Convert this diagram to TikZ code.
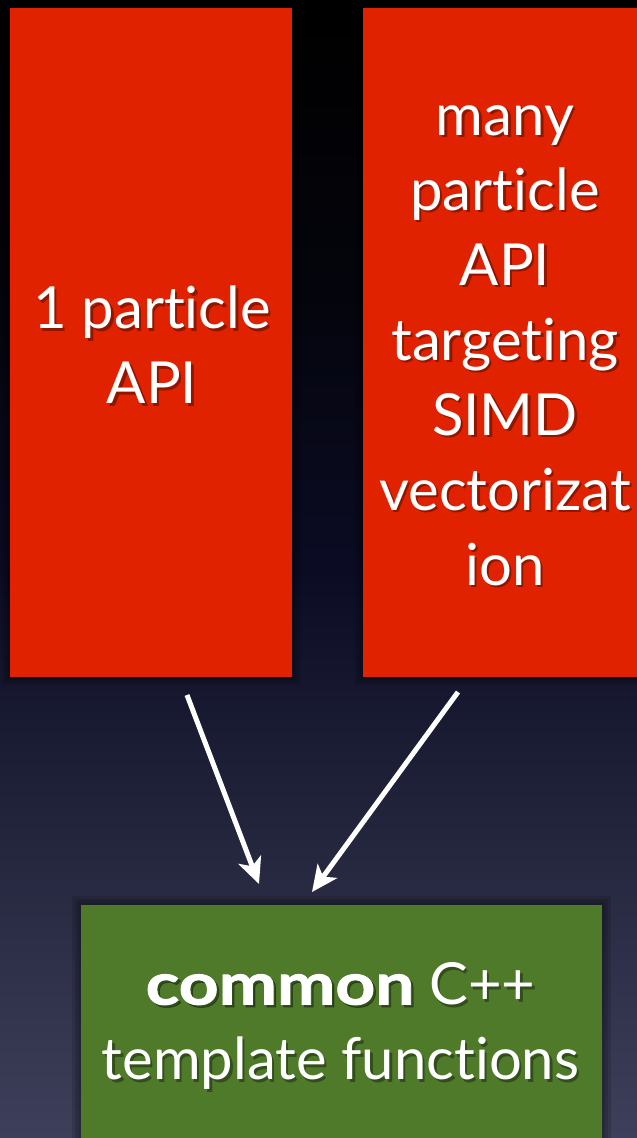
\documentclass[tikz,border=0pt]{standalone}
\usepackage{fontspec}
\setmainfont{Lato}[Ligatures={NoCommon,NoRequired,NoContextual}]
\usetikzlibrary{arrows.meta}
\definecolor{boxred}{HTML}{E02200}
\definecolor{boxgreen}{HTML}{4E7A2A}
\definecolor{bgc0}{HTML}{000000}
\definecolor{bgc1}{HTML}{04040C}
\definecolor{bgc2}{HTML}{0B0C24}
\definecolor{bgc3}{HTML}{25273F}
\definecolor{bgc4}{HTML}{3E3F5A}
\pgfdeclareverticalshading{bgshade}{100bp}{color(0bp)=(bgc4); color(25bp)=(bgc4); color(37.5bp)=(bgc3); color(50bp)=(bgc2); color(62.5bp)=(bgc1); color(75bp)=(bgc0); color(100bp)=(bgc0)}
\newcommand{\heavy}[1]{{\bfseries\addfontfeatures{FakeStretch=1.2,FakeBold=1.5}#1}}
\tikzset{
  redbox/.style={fill=boxred, draw=none, inner sep=0pt, anchor=north west},
  greenbox/.style={fill=boxgreen, draw=none, inner sep=0pt, anchor=north west},
  halo/.style={fill=black, fill opacity=0.12, draw=none},
  boxtxt/.style={text=white, align=center, inner sep=0pt, font=\fontsize{58}{75}\selectfont},
  shadowtxt/.style={boxtxt, text=black, text opacity=0.35},
  arr/.style={draw=white, line width=5pt, -{Stealth[length=26pt,width=24pt,inset=7pt]}}
}
\begin{document}
\begin{tikzpicture}[x=1pt,y=-1pt]
\useasboundingbox (0,0) rectangle (637,1138);
\shade[shading=bgshade] (0,0) rectangle (637,1138);
% halos
\foreach \d in {3,6,9} {
  \fill[halo] (10-\d,8-\d) rectangle (292+\d,677+\d);
  \fill[halo] (363-\d,8-\d) rectangle (660,677+\d);
  \fill[halo] (81-\d,905-\d) rectangle (602+\d,1160);
}
% boxes
\node[redbox, minimum width=282pt, minimum height=669pt] (left) at (10,8) {};
\node[redbox, minimum width=290pt, minimum height=669pt] (right) at (363,8) {};
\node[greenbox, minimum width=521pt, minimum height=270pt] (bottom) at (81,905) {};
% texts
\node[shadowtxt] (lefts) at (154.5,347.5) {1 particle\\API};
\node[boxtxt] (leftt) at (152,345) {1 particle\\API};
\node[shadowtxt] (rights) at (507.5,348) {many\\particle\\API\\targeting\\SIMD\\vectorizat\\ion};
\node[boxtxt] (rightt) at (505,345.5) {many\\particle\\API\\targeting\\SIMD\\vectorizat\\ion};
\node[shadowtxt] (bottoms) at (343,1028.5) {\heavy{common} C++\\template functions};
\node[boxtxt] (bottomt) at (340.5,1026) {\heavy{common} C++\\template functions};
% arrows
\coordinate (a1s) at (187,695);
\coordinate (a1e) at (259,884);
\coordinate (a2s) at (458,692);
\coordinate (a2e) at (312,892);
\draw[arr] (a1s) -- (a1e);
\draw[arr] (a2s) -- (a2e);
\end{tikzpicture}
\end{document}
